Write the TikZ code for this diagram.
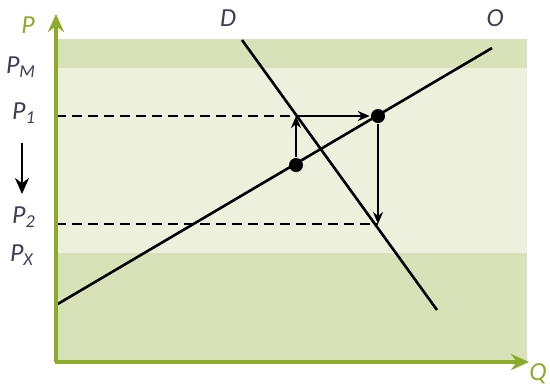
\documentclass[tikz,border=0pt]{standalone}
\usepackage{fontspec}
\setsansfont{Carlito}
\usetikzlibrary{arrows.meta}
\definecolor{oliva}{HTML}{8DAB2B}
\definecolor{fasciaS}{HTML}{D9E1B9}
\definecolor{fasciaC}{HTML}{ECF0DD}
\definecolor{testo}{HTML}{3D3D55}
\begin{document}
\begin{tikzpicture}[x=0.5pt, y=-0.5pt, line width=1.25pt,
	font=\sffamily\itshape\fontsize{13}{15}\selectfont,
	asse/.style  = {oliva, line width=1.6pt, -{Stealth[length=9pt,width=8pt]}},
	curva/.style = {black, line width=1.3pt},
	freccia/.style = {black, line width=1pt, -{Stealth[length=6pt,width=5pt]}},
	guida/.style = {black, line width=1pt, dash pattern=on 5pt off 3pt},
	punto/.style = {circle, fill=black, inner sep=0pt, minimum size=7pt},
	etich/.style = {text=testo},
	]
	
	%% ── Parametri geometrici (pixel) ─────────────────────────────────────────
	\def\xO{56}   \def\yO{362}    % origine assi
	\def\xR{527}  \def\yT{39}     % fascia: bordo destro e superiore
	\def\yM{68}   \def\yX{253}    % livelli P_M e P_X
	\def\yA{116}  \def\yB{224}    % livelli P_1 e P_2
	\useasboundingbox (0,0) rectangle (550,388);
	
	%% ── Fasce di sfondo ──────────────────────────────────────────────────────
	\fill[fasciaS](\xO,\yT) rectangle (\xR,\yO);
	\fill[fasciaC](\xO,\yM) rectangle (\xR,\yX);
	
	%% ── Punti notevoli ───────────────────────────────────────────────────────
	\coordinate (p1) at (\xO,\yA);
	\coordinate (p2) at (\xO,\yB);
	\coordinate (eq) at (296,\yA);
	\coordinate (bb) at (378,\yB);
	\node[punto] (aa) at (296,165) {};
	\node[punto] (cc) at (378,\yA) {};
	
	%% ── Curve di domanda e offerta ───────────────────────────────────────────
	\draw[curva](\xO,305)--(492,48);
	\draw[curva](242,40)--(437,310);
	
	%% ── Richiami tratteggiati ────────────────────────────────────────────────
	\draw[guida](p1)--(eq);
	\draw[guida](p2)--(bb);
	
	%% ── Frecce di aggiustamento ──────────────────────────────────────────────
	\draw[freccia](aa)--(eq);
	\draw[freccia](eq)--(cc);
	\draw[freccia](cc)--(bb);
	
	%% ── Assi ─────────────────────────────────────────────────────────────────
	\draw[asse](\xO,\yO)--(\xO,14);
	\draw[asse](\xO-0.8,\yO)--(529,\yO);
	
	%% ── Etichette ────────────────────────────────────────────────────────────
	\node[text=oliva] (lP) at (28,25) {P};
	\node[text=oliva] (lQ) at (538,374) {Q};
	\node[etich] (lD) at (228,18) {D};
	\node[etich] (lO) at (495,18) {O};
	\node[etich] (lPM) at (21,67) {P\textsubscript{M}};
	\node[etich] (lP1) at (24,113) {P\textsubscript{1}};
	\node[etich] (lP2) at (24,217) {P\textsubscript{2}};
	\node[etich] (lPX) at (22,255) {P\textsubscript{X}};
	\draw[black, line width=1.4pt, -{Stealth[length=8pt,width=7pt]}]
	(lP1.south)++(-2,12) coordinate (g1)--(g1|-0,194);
	
\end{tikzpicture}
\end{document}
